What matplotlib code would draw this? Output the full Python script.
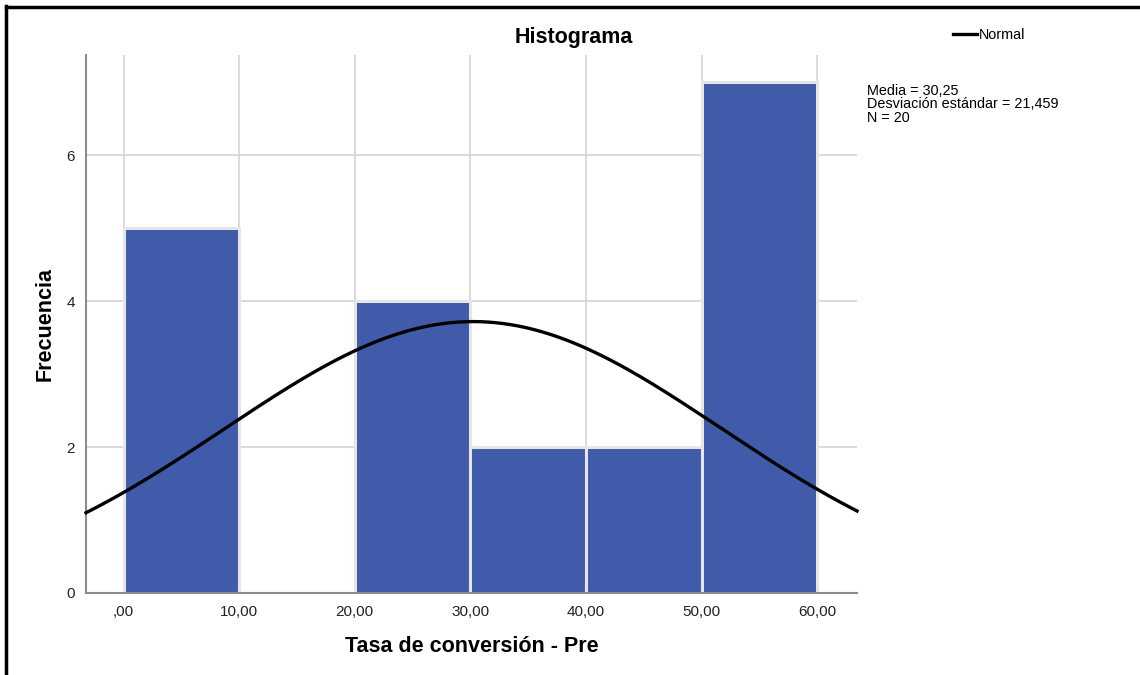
import numpy as np
import matplotlib
matplotlib.use("Agg")
import matplotlib.pyplot as plt
from matplotlib.lines import Line2D

plt.rcParams['font.family'] = ['Liberation Sans', 'DejaVu Sans']

# data
bin_edges = [0, 10, 20, 30, 40, 50, 60]
counts = [5, 0, 4, 2, 2, 7]
media = 30.25
desv = 21.459
n_total = 20
x_ticks = [0, 10, 20, 30, 40, 50, 60]
x_tick_labels = [",00", "10,00", "20,00", "30,00", "40,00", "50,00", "60,00"]
y_ticks = [0, 2, 4, 6]

bar_color = "#3F5BA9"
grid_color = "#d4d4d4"
axis_color = "#8c8c8c"

fig = plt.figure(figsize=(11.4, 6.75), dpi=100)
ax = fig.add_axes([86 / 1140, 82 / 675, 771 / 1140, 538 / 675])

xmin, xmax = -3.25, 63.45
ymin, ymax = 0, 7.37

# grid behind everything
ax.set_axisbelow(True)
ax.grid(True, color=grid_color, linewidth=1.2)

# histogram bars
lefts = bin_edges[:-1]
widths = np.diff(bin_edges)
ax.bar(lefts, counts, width=widths, align="edge", color=bar_color,
       edgecolor="#e6e6e6", linewidth=2.2, zorder=2)

# normal curve scaled to counts
bw = bin_edges[1] - bin_edges[0]
xs = np.linspace(xmin, xmax, 400)
ys = n_total * bw / (desv * np.sqrt(2 * np.pi)) * np.exp(-0.5 * ((xs - media) / desv) ** 2)
ax.plot(xs, ys, color="black", linewidth=2.4, zorder=3, clip_on=False)

ax.set_xlim(xmin, xmax)
ax.set_ylim(ymin, ymax)
ax.set_xticks(x_ticks)
ax.set_xticklabels(x_tick_labels)
ax.set_yticks(y_ticks)
ax.tick_params(axis="both", length=0, labelsize=11, colors="#222222")
ax.tick_params(axis="x", pad=9)
ax.tick_params(axis="y", pad=8)

for side in ["top", "right"]:
    ax.spines[side].set_visible(False)
for side in ["left", "bottom"]:
    ax.spines[side].set_color(axis_color)
    ax.spines[side].set_linewidth(1.5)

ax.set_xlabel("Tasa de conversión - Pre", fontsize=15.5, fontweight="bold", labelpad=12)
ax.set_ylabel("Frecuencia", fontsize=15.5, fontweight="bold", labelpad=8)

# title centred over the whole chart area
fig.text(574 / 1140, 1 - 38 / 675, "Histograma", fontsize=15.5, fontweight="bold",
         ha="center", va="center")

# legend
fig.add_artist(Line2D([953 / 1140, 977 / 1140], [1 - 34 / 675, 1 - 34 / 675],
                      color="black", linewidth=2.4))
fig.text(979 / 1140, 1 - 35 / 675, "Normal", fontsize=10.4, ha="left", va="center")

# stats box
fig.text(867 / 1140, 1 - 84 / 675,
         "Media = 30,25\nDesviación estándar = 21,459\nN = 20",
         fontsize=10.4, ha="left", va="top", linespacing=0.95)

# black frame on top and left (screenshot crop)
fig.add_artist(Line2D([6 / 1140, 6 / 1140], [0, 1 - 6 / 675], color="black", linewidth=2.5))
fig.add_artist(Line2D([6 / 1140, 1], [1 - 7 / 675, 1 - 7 / 675], color="black", linewidth=2.5))

fig.savefig("out.png", dpi=100)
